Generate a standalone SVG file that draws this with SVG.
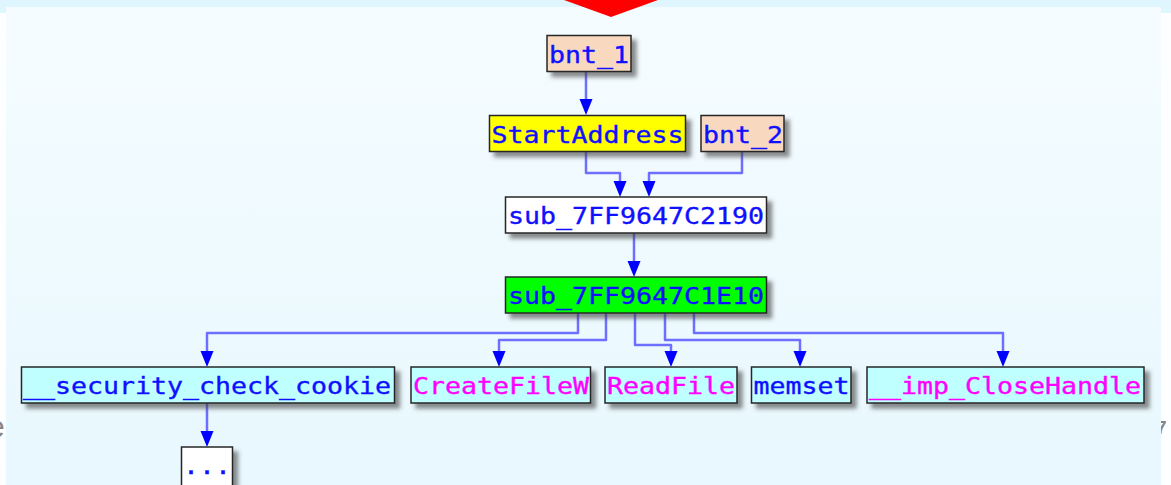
<svg xmlns="http://www.w3.org/2000/svg" width="1171" height="485" viewBox="0 0 1171 485">
  <defs>
    <linearGradient id="panelFill" x1="0" y1="0" x2="0" y2="1">
      <stop offset="0" stop-color="#f5fcff"/>
      <stop offset="1" stop-color="#e8f8fe"/>
    </linearGradient>
    <filter id="nodeShadow" x="-10%" y="-20%" width="130%" height="160%">
      <feDropShadow dx="5" dy="5" stdDeviation="2" flood-color="#404040" flood-opacity="0.6"/>
    </filter>
    <marker id="arrowHead" markerUnits="userSpaceOnUse" markerWidth="17" markerHeight="14" refX="12" refY="6.5" orient="auto">
      <path d="M0,0 L16,6.5 L0,13 z" fill="#0000ff"/>
    </marker>
    <style>
      .node rect { stroke: #262626; stroke-width: 1.5; filter: url(#nodeShadow); }
      .node text { font-family: "DejaVu Sans Mono", "Liberation Mono", monospace; font-size: 23px; stroke-width: 0.35; }
      .blue { fill: #1010ff; stroke: #1010ff; }
      .magenta { fill: #ff00ff; stroke: #ff00ff; }
      .peach { fill: #f8d9bf; }
      .yellow { fill: #ffff00; }
      .white { fill: #ffffff; }
      .green { fill: #00ff00; }
      .cyan { fill: #c0ffff; }
      .edge { fill: none; stroke: #6f6fff; stroke-width: 2.5; stroke-linejoin: round; marker-end: url(#arrowHead); }
      .stray { font-family: "Liberation Sans", Arial, sans-serif; fill: #858585; }
    </style>
  </defs>

  <!-- page background behind the graph panel -->
  <rect x="0" y="0" width="1171" height="485" fill="#fdfeff"/>
  <rect x="0" y="0" width="1171" height="13" fill="#e0f6ff"/>
  <text class="stray" x="-12" y="437" font-size="30">e</text>
  <text class="stray" x="1156" y="434" font-size="19" font-weight="bold">7</text>

  <!-- graph panel -->
  <rect x="6" y="7" width="1155" height="480" fill="url(#panelFill)"/>

  <!-- red pointer at the top -->
  <polygon points="564,0 658,0 611,17" fill="#ff0000"/>

  <!-- connectors -->
  <g id="edges">
    <polyline class="edge" points="586,72 586,111"/>
    <polyline class="edge" points="586,151 586,173 620,173 620,193"/>
    <polyline class="edge" points="742,151 742,173 649,173 649,193"/>
    <polyline class="edge" points="634,233 634,273"/>
    <polyline class="edge" points="578,313 578,333 207,333 207,363"/>
    <polyline class="edge" points="606,313 606,340 499,340 499,363"/>
    <polyline class="edge" points="635,313 635,345 671,345 671,363"/>
    <polyline class="edge" points="665,313 665,340 800,340 800,363"/>
    <polyline class="edge" points="694,313 694,333 1003,333 1003,363"/>
    <polyline class="edge" points="207,403 207,443"/>
  </g>

  <!-- nodes -->
  <g id="node-bnt_1" class="node">
    <rect class="peach" x="547" y="35.5" width="84" height="36"/>
    <text class="blue" x="549" y="63" textLength="80" lengthAdjust="spacingAndGlyphs">bnt_1</text>
  </g>
  <g id="node-StartAddress" class="node">
    <rect class="yellow" x="489.5" y="115.5" width="196" height="36"/>
    <text class="blue" x="491.5" y="142.5" textLength="192" lengthAdjust="spacingAndGlyphs">StartAddress</text>
  </g>
  <g id="node-bnt_2" class="node">
    <rect class="peach" x="701" y="115.5" width="83" height="36"/>
    <text class="blue" x="703" y="142.5" textLength="80" lengthAdjust="spacingAndGlyphs">bnt_2</text>
  </g>
  <g id="node-sub_7FF9647C2190" class="node">
    <rect class="white" x="505.5" y="197" width="261" height="36"/>
    <text class="blue" x="508" y="224" textLength="256" lengthAdjust="spacingAndGlyphs">sub_7FF9647C2190</text>
  </g>
  <g id="node-sub_7FF9647C1E10" class="node">
    <rect class="green" x="505.5" y="277" width="261" height="36"/>
    <text class="blue" x="508" y="304" textLength="256" lengthAdjust="spacingAndGlyphs">sub_7FF9647C1E10</text>
  </g>
  <g id="node-security_check_cookie" class="node">
    <rect class="cyan" x="21.5" y="367" width="373" height="36"/>
    <text class="blue" x="23" y="394" textLength="368" lengthAdjust="spacingAndGlyphs">__security_check_cookie</text>
  </g>
  <g id="node-CreateFileW" class="node">
    <rect class="cyan" x="411" y="367" width="179.5" height="36"/>
    <text class="magenta" x="413" y="394" textLength="176" lengthAdjust="spacingAndGlyphs">CreateFileW</text>
  </g>
  <g id="node-ReadFile" class="node">
    <rect class="cyan" x="605" y="367" width="132" height="36"/>
    <text class="magenta" x="607" y="394" textLength="128" lengthAdjust="spacingAndGlyphs">ReadFile</text>
  </g>
  <g id="node-memset" class="node">
    <rect class="cyan" x="751.5" y="367" width="99.5" height="36"/>
    <text class="blue" x="753.5" y="394" textLength="96" lengthAdjust="spacingAndGlyphs">memset</text>
  </g>
  <g id="node-imp_CloseHandle" class="node">
    <rect class="cyan" x="867" y="367" width="277" height="36"/>
    <text class="magenta" x="869" y="394" textLength="272" lengthAdjust="spacingAndGlyphs">__imp_CloseHandle</text>
  </g>
  <g id="node-more" class="node">
    <rect class="white" x="181.5" y="447" width="51" height="42"/>
    <text class="blue" x="183" y="474" textLength="48" lengthAdjust="spacingAndGlyphs">...</text>
  </g>
</svg>
